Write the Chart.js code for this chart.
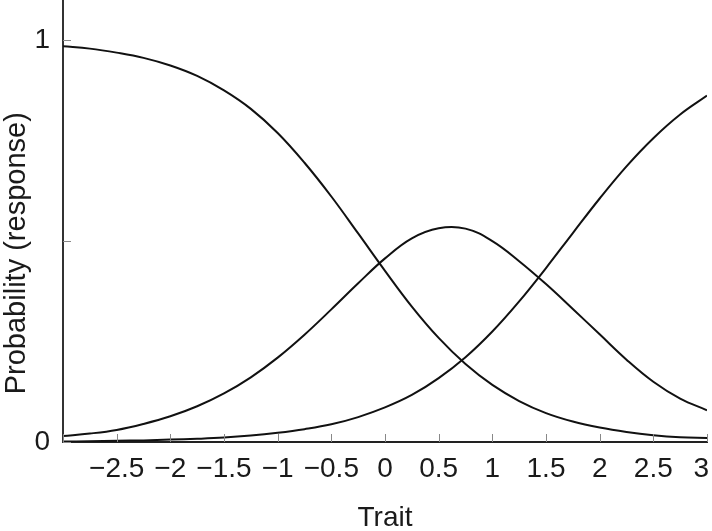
<!DOCTYPE html>
<html>
<head>
<meta charset="utf-8">
<script src="https://cdn.jsdelivr.net/npm/chart.js@4.4.1/dist/chart.umd.min.js"></script>
<style>
    html, body { margin: 0; padding: 0; background: #fff; }
    #wrap { width: 712px; height: 531px; position: relative; }
</style>
</head>
<body>
<div id="wrap"><canvas id="chart"></canvas></div>
<script>
const traitValues = [-3, -2.75, -2.5, -2.25, -2, -1.75, -1.5, -1.25, -1, -0.75, -0.5, -0.25,
    0, 0.25, 0.5, 0.75, 1, 1.25, 1.5, 1.75, 2, 2.25, 2.5, 2.75, 3];

// three response category curves
const lowResponse = [0.985, 0.979, 0.969, 0.956, 0.937, 0.911, 0.875, 0.829, 0.769, 0.695, 0.611, 0.519,
    0.426, 0.337, 0.259, 0.194, 0.142, 0.102, 0.072, 0.051, 0.036, 0.025, 0.017, 0.012, 0.010];
const middleResponse = [0.015, 0.021, 0.030, 0.045, 0.064, 0.089, 0.121, 0.161, 0.210, 0.267, 0.330, 0.395,
    0.457, 0.507, 0.532, 0.531, 0.500, 0.450, 0.393, 0.331, 0.268, 0.205, 0.150, 0.108, 0.079];
const highResponse = [0.001, 0.002, 0.003, 0.004, 0.006, 0.008, 0.011, 0.016, 0.023, 0.032, 0.044, 0.062,
    0.086, 0.117, 0.159, 0.211, 0.275, 0.350, 0.433, 0.520, 0.606, 0.686, 0.756, 0.815, 0.862];

const xTickValues = [-3, -2.5, -2, -1.5, -1, -0.5, 0, 0.5, 1, 1.5, 2, 2.5, 3];
const xTickLabels = ['', '\u22122.5', '\u22122', '\u22121.5', '\u22121', '\u22120.5', '0', '0.5', '1', '1.5', '2', '2.5', '3\u2009\u2009'];
const yTickValues = [0, 0.5, 1];
const yTickLabels = ['0', '', '1'];

const fontFamily = '"Liberation Sans", Arial, sans-serif';

function toPoints(values) {
    return traitValues.map((x, i) => ({ x: x, y: values[i] }));
}

function curve(values) {
    return {
        data: toPoints(values),
        borderColor: '#111',
        borderWidth: 2,
        pointRadius: 0,
        fill: false,
        tension: 0.4,
    };
}

// small tick marks pointing into the plot
const innerTicks = {
    id: 'innerTicks',
    afterDraw(chart) {
        const { ctx, chartArea, scales } = chart;
        ctx.save();
        ctx.strokeStyle = '#888';
        ctx.lineWidth = 1;
        ctx.beginPath();
        xTickValues.forEach(v => {
            const px = Math.round(scales.x.getPixelForValue(v)) + 0.5;
            ctx.moveTo(px, chartArea.bottom);
            ctx.lineTo(px, chartArea.bottom - 8);
        });
        yTickValues.forEach(v => {
            const py = Math.round(scales.y.getPixelForValue(v)) + 0.5;
            ctx.moveTo(chartArea.left, py);
            ctx.lineTo(chartArea.left + 8, py);
        });
        ctx.stroke();
        ctx.restore();
    }
};

Chart.defaults.font.family = fontFamily;
Chart.defaults.color = '#1a1a1a';

new Chart(document.getElementById('chart'), {
    type: 'line',
    data: {
        datasets: [curve(lowResponse), curve(middleResponse), curve(highResponse)],
    },
    options: {
        animation: false,
        responsive: true,
        maintainAspectRatio: false,
        layout: { padding: { top: 0, right: 5, bottom: 0, left: 0 } },
        plugins: {
            legend: { display: false },
            tooltip: { enabled: false },
        },
        scales: {
            x: {
                type: 'linear',
                min: -3,
                max: 3,
                afterBuildTicks: (scale) => {
                    scale.ticks = xTickValues.map(v => ({ value: v }));
                },
                afterFit: (scale) => {
                    scale.height = 89;
                    scale.paddingLeft = 0;
                    scale.paddingRight = 0;
                },
                ticks: {
                    autoSkip: false,
                    maxRotation: 0,
                    minRotation: 0,
                    padding: 10,
                    font: { size: 28 },
                    callback: (value, index) => xTickLabels[index],
                },
                grid: { display: true, drawOnChartArea: false, drawTicks: false },
                border: { display: true, color: '#222', width: 2 },
                title: {
                    display: true,
                    text: 'Trait',
                    font: { size: 28, lineHeight: 0.9 },
                    padding: { top: 0, bottom: 0 },
                },
            },
            y: {
                type: 'linear',
                min: 0,
                max: 1.1,
                afterBuildTicks: (scale) => {
                    scale.ticks = yTickValues.map(v => ({ value: v }));
                },
                afterFit: (scale) => {
                    scale.width = 63;
                    scale.paddingTop = 0;
                    scale.paddingBottom = 0;
                },
                ticks: {
                    padding: 13,
                    font: { size: 28 },
                    callback: (value, index) => yTickLabels[index],
                },
                grid: { display: true, drawOnChartArea: false, drawTicks: false },
                border: { display: true, color: '#333', width: 2 },
                title: {
                    display: true,
                    text: 'Probability (response)\u00a0\u00a0\u00a0\u00a0\u00a0\u00a0\u00a0\u00a0',
                    font: { size: 29 },
                    padding: { top: 0, bottom: 0 },
                },
            },
        },
    },
    plugins: [innerTicks],
});
</script>
</body>
</html>
